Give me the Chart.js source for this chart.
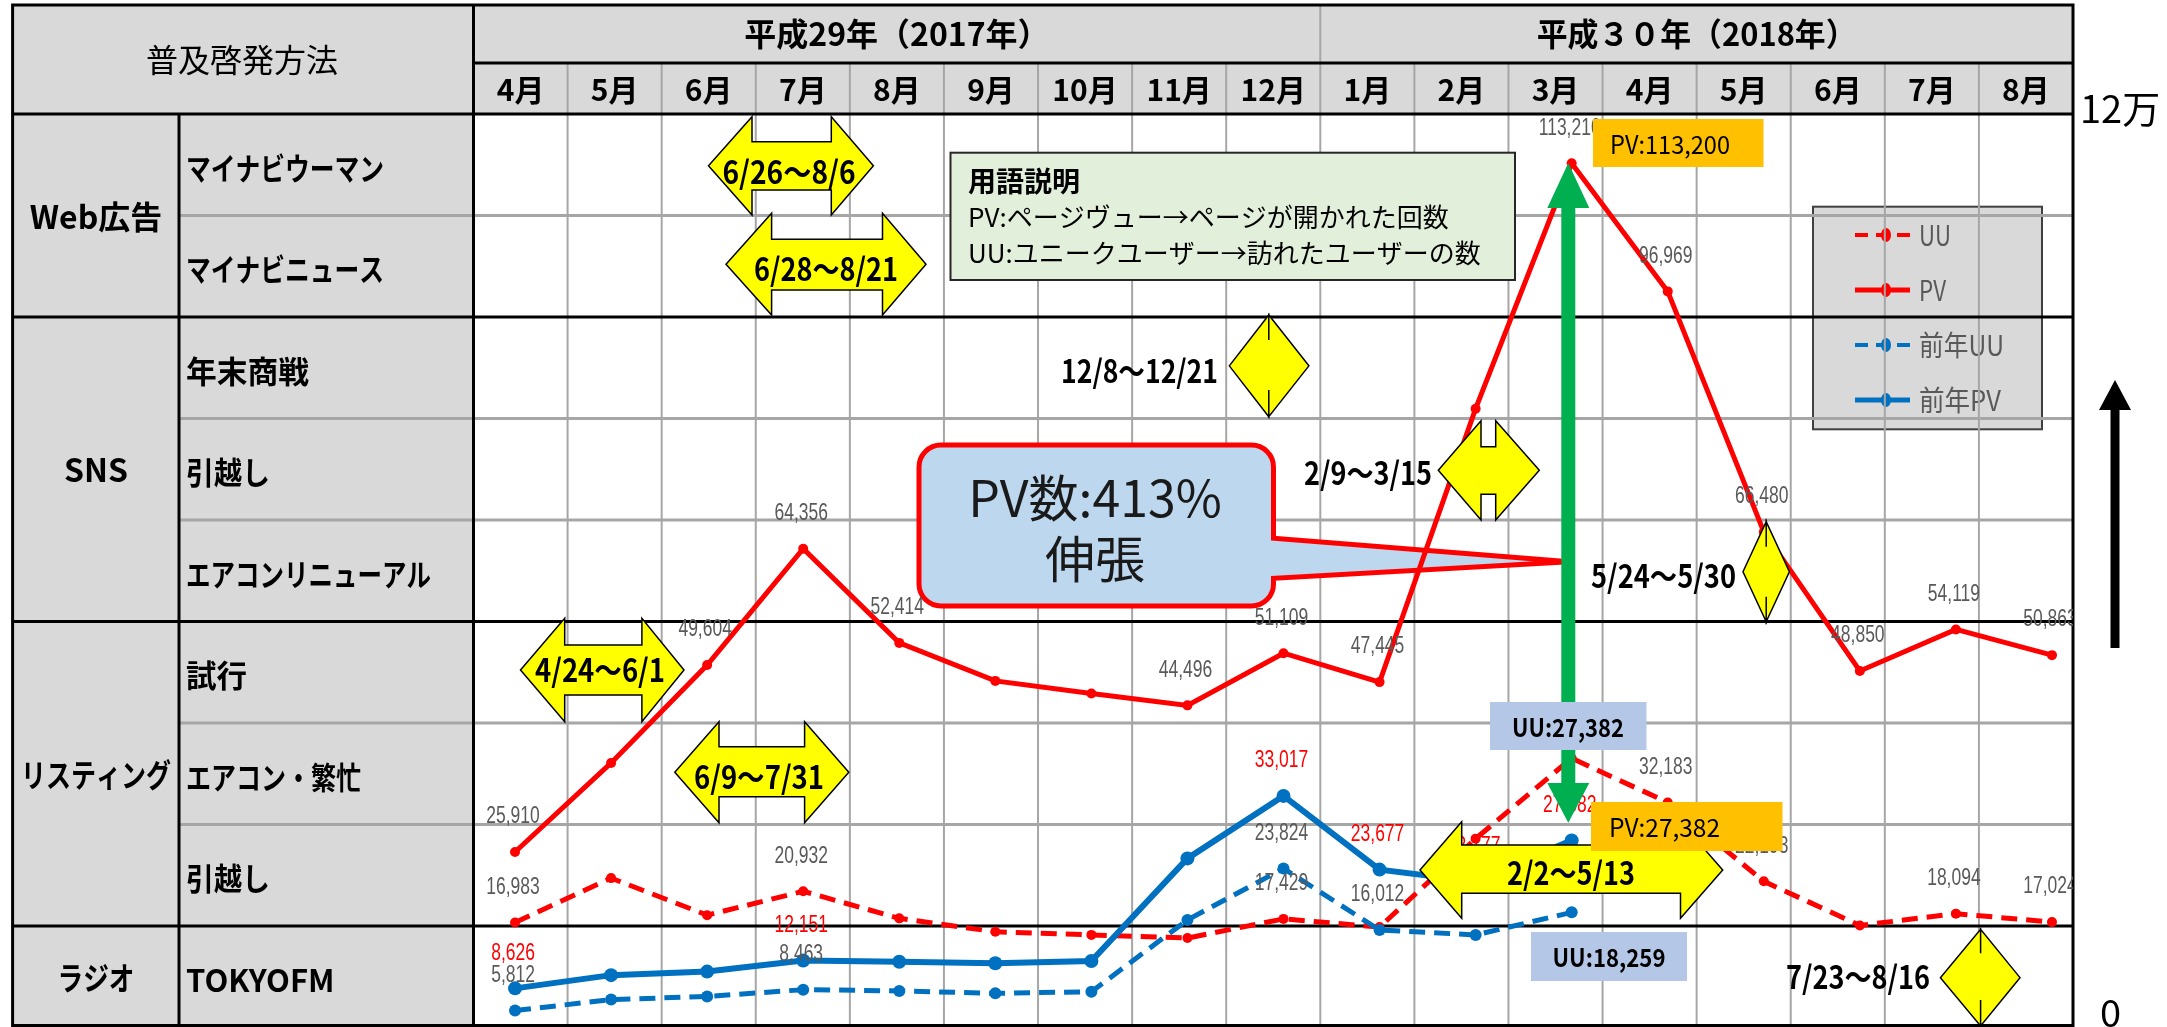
<!DOCTYPE html>
<html><head><meta charset="utf-8">
<script src="https://cdn.jsdelivr.net/npm/chart.js@4/dist/chart.umd.min.js"></script>
<style>html,body{margin:0;padding:0;background:#fff;overflow:hidden;width:2167px;height:1027px}canvas{display:block}</style>
</head><body><canvas id="c" width="2167" height="1070"></canvas>
<script>
// ---------- DATA ----------
const months = ['4月','5月','6月','7月','8月','9月','10月','11月','12月','1月','2月','3月','4月','5月','6月','7月','8月'];
const yearHeaders = ['平成29年（2017年）','平成３０年（2018年）'];
const yearSpans = [9, 8];
const seriesNames = ['UU','PV','前年UU','前年PV'];
const uu     = [16983,22600,17900,20932,17500,15800,15400,15000,17429,16400,27600,37800,32183,22193,16600,18094,17024];
const pv     = [25910,37200,49604,64356,52414,47600,46000,44496,51109,47445,82100,113210,96969,66480,48850,54119,50863];
const prevUU = [5812,7200,7600,8463,8300,8000,8200,17300,23824,16012,15400,18259,null,null,null,null,null];
const prevPV = [8626,10300,10750,12151,12000,11800,12100,25100,33017,23677,22177,27382,null,null,null,null,null];
const uuLabelIdx     = [0,3,8,11,12,13,15,16];
const pvLabelIdx     = [0,2,3,4,7,8,9,11,12,13,14,15,16];
const prevUULabelIdx = [0,3,8,9,11];
const prevPVLabelIdx = [0,3,8,9,10,11];
const groups = ['Web広告','SNS','リスティング','ラジオ'];
const groupRows = [2,3,3,1];
const items = ['マイナビウーマン','マイナビニュース','年末商戦','引越し','エアコンリニューアル','試行','エアコン・繁忙','引越し','TOKYOFM'];
const cornerTitle = '普及啓発方法';
const periodTexts = ['6/26〜8/6','6/28〜8/21','12/8〜12/21','2/9〜3/15','5/24〜5/30','4/24〜6/1','6/9〜7/31','2/2〜5/13','7/23〜8/16'];
const noteTitle = '用語説明';
const noteLines = ['PV:ページヴュー→ページが開かれた回数','UU:ユニークユーザー→訪れたユーザーの数'];
const calloutLines = ['PV数:413%','伸張'];
const boxTexts = ['PV:113,200','PV:27,382','UU:27,382','UU:18,259'];
const axisTexts = ['12万','0'];
const yMax = 120000;

// ---------- LAYOUT / STYLE ----------
const W=2167,H=1070;
const T={x0:12.6,x1:179,x2:473.5,x3:2073,y0:5,y1:63,y2:114,rowH:101.5,bottom:1025.5};
const colW=(T.x3-T.x2)/months.length;
const JP='"Noto Sans CJK JP", sans-serif';
const LS='"Liberation Sans", Arial, sans-serif';
const groupLabelW=[133,67,150,77];
const itemW=[198,198,123,84,245,61,175,84,161];
// [tipL, baseL, baseR, tipR, top, shaftTop, shaftBot, bottom]
const arrowShapes=[
 [708.5,752,831.3,873.4,116.7,141.7,190,215],
 [726,771.6,882.5,926,213.3,239.3,290,315],
 [1229.3,1268.8,1268.8,1308.9,315,340,390,416.7],
 [1438.3,1481,1495.7,1539.3,420.7,446.7,494.3,520],
 [1743,1766.2,1766.2,1789.4,521.7,546.7,596.7,621.7],
 [520.5,564.7,641.9,684,618.3,645,695,721.7],
 [674.8,719,804.6,848.8,721.7,746.7,796.7,822.7],
 [1420,1461.7,1680.5,1722.7,821.7,845,893.3,918.3],
 [1940.4,1980.6,1980.6,2020,929.3,953.3,1000,1026]
];
const periodTextPos=[[789,172,'center',133],[826,269,'center',144],[1218,371,'right',157],[1432,473,'right',128],
 [1736,576,'right',145],[600,670,'center',130],[759,777,'center',130],[1571,873,'center',128],[1930,977,'right',144]];

function txt(ctx,s,x,y,font,color,align,maxW){
  ctx.font=font;ctx.fillStyle=color;ctx.textAlign=align||'center';ctx.textBaseline='middle';
  if(maxW){const w=ctx.measureText(s).width; if(w>maxW){ctx.fillText(s,x,y,maxW);return;}}
  ctx.fillText(s,x,y);
}
function line(ctx,x1,y1,x2,y2){ctx.beginPath();ctx.moveTo(x1,y1);ctx.lineTo(x2,y2);ctx.stroke();}

function drawLegend(ctx){
  ctx.fillStyle='#d9d9d9';ctx.fillRect(1813,206.7,229,222.6);
  ctx.strokeStyle='#404040';ctx.lineWidth=2;ctx.strokeRect(1813,206.7,229,222.6);
  const cols=['#ff0000','#ff0000','#0070c0','#0070c0'];
  const dashed=[true,false,true,false];
  for(let i=0;i<4;i++){
    const y=235+i*55;
    ctx.strokeStyle=cols[i];ctx.lineWidth=dashed[i]?4:5;
    ctx.setLineDash(dashed[i]?[13,8]:[]);
    line(ctx,1855,y,1910,y);ctx.setLineDash([]);
    ctx.fillStyle=cols[i];ctx.beginPath();ctx.ellipse(1886,y,5,7,0,0,Math.PI*2);ctx.fill();
    const mw=[32,27,85,82][i];
    txt(ctx,seriesNames[i],1919,y,'28px '+JP,'#595959','left',mw);
  }
}

function drawGrid(ctx){
  ctx.lineCap='butt';
  ctx.strokeStyle='#a6a6a6';ctx.lineWidth=2;
  for(let i=1;i<months.length;i++){const x=T.x2+i*colW;line(ctx,x,T.y1,x,T.bottom);}
  const xd=T.x2+yearSpans[0]*colW;line(ctx,xd,T.y0,xd,T.y1);
  let r=0;const groupEnds=[];
  groupRows.forEach(n=>{r+=n;groupEnds.push(r);});
  ctx.lineWidth=3;ctx.strokeStyle='#a6a6a6';
  for(let i=1;i<items.length;i++){ if(groupEnds.indexOf(i)<0){const y=T.y2+i*T.rowH;line(ctx,T.x1,y,T.x3,y);} }
  ctx.strokeStyle='#000';ctx.lineWidth=3;
  line(ctx,T.x2,T.y1,T.x3,T.y1);
  line(ctx,T.x0,T.y2,T.x3,T.y2);
  groupEnds.slice(0,-1).forEach(g=>{const y=T.y2+g*T.rowH;line(ctx,T.x0,y,T.x3,y);});
  line(ctx,T.x2,T.y0,T.x2,T.bottom);
  line(ctx,T.x1,T.y2,T.x1,T.bottom);
  ctx.strokeRect(T.x0,T.y0,T.x3-T.x0,T.bottom-T.y0);
}

function drawCallout(ctx){
  const x0=919,y0=445,x1=1273.5,y1=606,r=22;
  ctx.beginPath();
  ctx.moveTo(x0+r,y0);ctx.lineTo(x1-r,y0);ctx.arcTo(x1,y0,x1,y0+r,r);
  ctx.lineTo(x1,538.3);ctx.lineTo(1569.5,561.7);ctx.lineTo(x1,578.3);
  ctx.lineTo(x1,y1-r);ctx.arcTo(x1,y1,x1-r,y1,r);
  ctx.lineTo(x0+r,y1);ctx.arcTo(x0,y1,x0,y1-r,r);
  ctx.lineTo(x0,y0+r);ctx.arcTo(x0,y0,x0+r,y0,r);ctx.closePath();
  ctx.fillStyle='#bdd7ee';ctx.fill();
  ctx.strokeStyle='#ff0000';ctx.lineWidth=5;ctx.lineJoin='miter';ctx.stroke();
  txt(ctx,calloutLines[0],1095,498,'50px '+JP,'#1a1a1a','center',256);
  txt(ctx,calloutLines[1],1095,559,'50px '+JP,'#1a1a1a','center');
}

function drawTableText(ctx){
  txt(ctx,cornerTitle,242,60,'32px '+JP,'#000','center',192);
  let start=0;
  yearHeaders.forEach((h,i)=>{const cx=T.x2+(start+yearSpans[i]/2)*colW;txt(ctx,h,cx,34,'bold 32px '+JP,'#000','center',320);start+=yearSpans[i];});
  months.forEach((m,i)=>txt(ctx,m,T.x2+(i+0.5)*colW,90,'bold 30px '+JP,'#000','center',72));
  let r=0;
  groups.forEach((g,i)=>{const cy=T.y2+(r+groupRows[i]/2)*T.rowH;txt(ctx,g,96,cy+1,'bold 32px '+JP,'#000','center',groupLabelW[i]);r+=groupRows[i];});
  items.forEach((s,i)=>txt(ctx,s,186,T.y2+(i+0.5)*T.rowH+3,'bold 31px '+JP,'#000','left',itemW[i]));
}

function lrArrow(ctx,a){
  const [tl,bl,br,tr,top,st,sb,bot]=a;const mid=(top+bot)/2;
  ctx.beginPath();ctx.moveTo(tl,mid);ctx.lineTo(bl,top);ctx.lineTo(bl,st);ctx.lineTo(br,st);ctx.lineTo(br,top);
  ctx.lineTo(tr,mid);ctx.lineTo(br,bot);ctx.lineTo(br,sb);ctx.lineTo(bl,sb);ctx.lineTo(bl,bot);ctx.closePath();
  ctx.fillStyle='#ffff00';ctx.fill();ctx.strokeStyle='#000';ctx.lineWidth=1.5;ctx.lineJoin='miter';ctx.stroke();
}

function drawAnnotations(ctx){
  ctx.fillStyle='#e2efda';ctx.fillRect(950.5,152.7,564.5,127.3);
  ctx.strokeStyle='#262626';ctx.lineWidth=2;ctx.strokeRect(950.5,152.7,564.5,127.3);
  txt(ctx,noteTitle,968,181,'bold 28px '+JP,'#000','left');
  txt(ctx,noteLines[0],968,217,'26px '+JP,'#000','left',490);
  txt(ctx,noteLines[1],968,253,'26px '+JP,'#000','left',517);
  arrowShapes.forEach(a=>lrArrow(ctx,a));
  periodTexts.forEach((s,i)=>{const p=periodTextPos[i];txt(ctx,s,p[0],p[1],'bold 32px '+JP,'#000',p[2],p[3]);});
  const gx=1568.3,sw=7,hw=21,tt=163,tb=208,bb=783,bt=822.7;
  ctx.beginPath();ctx.moveTo(gx,tt);ctx.lineTo(gx+hw,tb);ctx.lineTo(gx+sw,tb);ctx.lineTo(gx+sw,bb);ctx.lineTo(gx+hw,bb);
  ctx.lineTo(gx,bt);ctx.lineTo(gx-hw,bb);ctx.lineTo(gx-sw,bb);ctx.lineTo(gx-sw,tb);ctx.lineTo(gx-hw,tb);ctx.closePath();
  ctx.fillStyle='#00b050';ctx.fill();
  ctx.fillStyle='#ffc000';ctx.fillRect(1593,119,170.5,48);
  txt(ctx,boxTexts[0],1610,144,'25px '+JP,'#000','left',120);
  ctx.fillStyle='#ffc000';ctx.fillRect(1591,802,191.5,49);
  txt(ctx,boxTexts[1],1609,827,'25px '+JP,'#000','left',111);
  ctx.fillStyle='#b4c7e7';ctx.fillRect(1490,702,156.5,48);
  txt(ctx,boxTexts[2],1568,727,'bold 25px '+JP,'#000','center',112);
  ctx.fillStyle='#b4c7e7';ctx.fillRect(1531,932,156,49);
  txt(ctx,boxTexts[3],1609,957,'bold 25px '+JP,'#000','center',113);
  ctx.beginPath();ctx.moveTo(2115,380);ctx.lineTo(2131,410);ctx.lineTo(2119.5,410);ctx.lineTo(2119.5,648);
  ctx.lineTo(2110.5,648);ctx.lineTo(2110.5,410);ctx.lineTo(2099,410);ctx.closePath();ctx.fillStyle='#000';ctx.fill();
  txt(ctx,axisTexts[0],2080,109,'38px '+JP,'#000','left');
  txt(ctx,axisTexts[1],2100,1013,'38px '+JP,'#000','left');
}

function drawLabels(chart){
  const ctx=chart.ctx;ctx.save();
  ctx.beginPath();ctx.rect(T.x2,T.y2,T.x3-T.x2,T.bottom-T.y2);ctx.clip();
  const sets=[[0,uuLabelIdx,'#595959'],[1,pvLabelIdx,'#595959'],[2,prevUULabelIdx,'#595959'],[3,prevPVLabelIdx,'#ff0000']];
  sets.forEach(([ds,idx,col])=>{
    const meta=chart.getDatasetMeta(ds);const vals=chart.data.datasets[ds].data;
    idx.forEach(j=>{const el=meta.data[j];if(!el||vals[j]==null)return;
      const s=vals[j].toLocaleString('en-US');ctx.font='23px '+LS;
      const w=ctx.measureText(s).width*0.76;
      ctx.fillStyle=col;ctx.textAlign='center';ctx.textBaseline='middle';ctx.fillText(s,el.x-2,el.y-35,w);});
  });
  ctx.restore();
}

const tablePlugin={
  id:'tablePlugin',
  beforeDraw(chart){const ctx=chart.ctx;ctx.save();
    ctx.fillStyle='#fff';ctx.fillRect(0,0,W,H);
    ctx.fillStyle='#d9d9d9';ctx.fillRect(T.x0,T.y0,T.x3-T.x0,T.y2-T.y0);ctx.fillRect(T.x0,T.y2,T.x2-T.x0,T.bottom-T.y2);
    drawLegend(ctx);drawGrid(ctx);drawCallout(ctx);ctx.restore();},
  afterDatasetsDraw(chart){const ctx=chart.ctx;
    drawLabels(chart);
    ctx.save();drawTableText(ctx);drawAnnotations(ctx);ctx.restore();}
};

const red='#ff0000',blue='#0070c0';
new Chart(document.getElementById('c'),{
  type:'line',
  data:{labels:months,datasets:[
    {label:seriesNames[0],data:uu,borderColor:red,backgroundColor:red,borderWidth:5,borderDash:[16,9],pointRadius:5,pointBorderWidth:0,pointBackgroundColor:red,tension:0,order:4},
    {label:seriesNames[1],data:pv,borderColor:red,backgroundColor:red,borderWidth:5,pointRadius:5,pointBorderWidth:0,pointBackgroundColor:red,tension:0,order:3},
    {label:seriesNames[2],data:prevUU,borderColor:blue,backgroundColor:blue,borderWidth:5,borderDash:[16,9],pointRadius:6,pointBorderWidth:0,pointBackgroundColor:blue,tension:0,order:2},
    {label:seriesNames[3],data:prevPV,borderColor:blue,backgroundColor:blue,borderWidth:6,pointRadius:7,pointBorderWidth:0,pointBackgroundColor:blue,tension:0,order:1}
  ]},
  options:{responsive:false,animation:false,devicePixelRatio:1,events:[],
    layout:{padding:{left:467,right:W-2100,top:109.7,bottom:H-1056.4}},
    plugins:{legend:{display:false},tooltip:{enabled:false},title:{display:false}},
    scales:{x:{type:'category',offset:true,display:false},y:{min:0,max:yMax,display:false}}
  },
  plugins:[tablePlugin]
});
</script></body></html>
